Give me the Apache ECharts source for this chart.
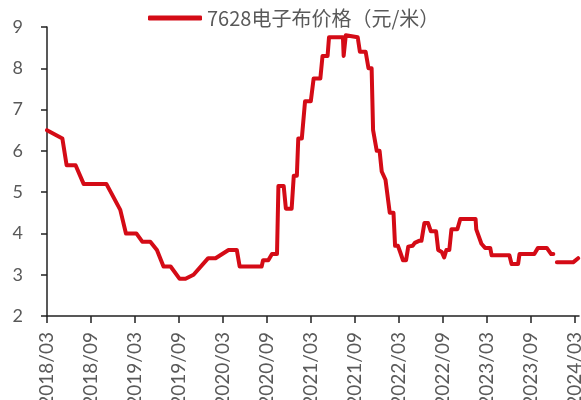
<!DOCTYPE html>
<html>
<head>
<meta charset="utf-8">
<script src="https://cdn.jsdelivr.net/npm/echarts@6/dist/echarts.min.js"></script>
<style>
  html, body { margin: 0; padding: 0; background: #fff; }
  #chart { width: 581px; height: 400px; }
</style>
</head>
<body>
<div id="chart"></div>
<script>
// 7628 electronic cloth price, CNY per metre (null = no quote)
const dates = [
  '2018-03-01','2018-05-04','2018-05-22','2018-06-28','2018-08-01','2018-11-04',
  '2019-01-01','2019-01-25','2019-03-07','2019-04-01','2019-05-04','2019-06-01',
  '2019-06-28','2019-07-28','2019-09-04','2019-09-28','2019-11-01','2020-01-01',
  '2020-02-01','2020-03-25','2020-04-28','2020-05-10','2020-08-10','2020-08-16',
  '2020-09-07','2020-09-22','2020-10-13','2020-10-19','2020-11-10','2020-11-19',
  '2020-12-13','2020-12-22','2021-01-04','2021-01-10','2021-01-25','2021-02-07',
  '2021-03-01','2021-03-13','2021-04-10','2021-04-19','2021-05-10','2021-05-16',
  '2021-07-13','2021-07-16','2021-07-25','2021-09-13','2021-09-22','2021-10-16',
  '2021-10-28','2021-11-10','2021-11-16','2021-12-01','2021-12-13','2021-12-22',
  '2022-01-07','2022-01-25','2022-02-09','2022-02-15','2022-02-26','2022-03-07',
  '2022-03-19','2022-04-01','2022-04-10','2022-04-28','2022-05-07','2022-05-25',
  '2022-06-04','2022-06-16','2022-07-01','2022-07-13','2022-08-04','2022-08-13',
  '2022-08-28','2022-09-07','2022-09-16','2022-09-28','2022-10-07','2022-11-01',
  '2022-11-13','2023-01-16','2023-01-19','2023-02-09','2023-02-23','2023-03-16',
  '2023-03-22','2023-06-04','2023-06-13','2023-07-10','2023-07-16','2023-09-16',
  '2023-10-01','2023-11-07','2023-11-25','2023-12-04','2023-12-11','2023-12-19',
  '2024-02-24','2024-03-16'
];
const prices = [
  6.5, 6.3, 5.65, 5.65, 5.2, 5.2,
  4.57, 4.0, 4.0, 3.8, 3.8, 3.6,
  3.2, 3.2, 2.9, 2.9, 3.0, 3.4,
  3.4, 3.6, 3.6, 3.2, 3.2, 3.35,
  3.35, 3.5, 3.5, 5.15, 5.15, 4.6,
  4.6, 5.4, 5.4, 6.3, 6.3, 7.2,
  7.2, 7.75, 7.75, 8.3, 8.3, 8.75,
  8.75, 8.3, 8.8, 8.75, 8.4, 8.4,
  8.0, 8.0, 6.5, 6.0, 6.0, 5.5,
  5.3, 4.5, 4.5, 3.7, 3.7, 3.55,
  3.35, 3.35, 3.68, 3.7, 3.77, 3.82,
  3.82, 4.25, 4.25, 4.05, 4.05, 3.6,
  3.55, 3.42, 3.6, 3.6, 4.1, 4.1,
  4.35, 4.35, 4.1, 3.75, 3.65, 3.65,
  3.47, 3.47, 3.26, 3.26, 3.5, 3.5,
  3.65, 3.65, 3.5, 3.5, null, 3.3,
  3.3, 3.4
];
const xTickLabels = [
  '2018/03','2018/09','2019/03','2019/09','2020/03','2020/09','2021/03',
  '2021/09','2022/03','2022/09','2023/03','2023/09','2024/03'
];
const seriesName = '7628电子布价格（元/米）';

// months elapsed since 2018-03-01
function monthOffset(str) {
  const [y, m, d] = str.split('-').map(Number);
  const dim = new Date(y, m, 0).getDate();
  return (y - 2018) * 12 + (m - 3) + (d - 1) / dim;
}
function labelMonth(s) {
  const [y, m] = s.split('/').map(Number);
  return (y - 2018) * 12 + (m - 3);
}

const tickValues = xTickLabels.map(labelMonth);
const seriesData = dates.map((d, i) => [monthOffset(d), prices[i] == null ? '-' : prices[i]]);
const lineColor = '#d40b16';
const textColor = '#595959';

const chart = echarts.init(document.getElementById('chart'), null, { renderer: 'canvas' });
chart.setOption({
  animation: false,
  backgroundColor: '#ffffff',
  legend: {
    left: 148,
    top: 8,
    padding: 0,
    itemWidth: 54,
    itemHeight: 5,
    itemGap: 10,
    icon: 'roundRect',
    textStyle: {
      fontFamily: '"Noto Sans CJK SC", sans-serif',
      fontSize: 20,
      color: textColor
    },
    data: [seriesName]
  },
  grid: { left: 47, right: 2, top: 27, bottom: 84, containLabel: false, outerBoundsMode: 'none' },
  xAxis: {
    type: 'value',
    min: 0,
    max: 72.6,
    axisLine: { show: true, lineStyle: { color: '#222', width: 1.5 } },
    axisTick: { show: true, length: 7, inside: false, customValues: tickValues, lineStyle: { color: '#222', width: 1.5 } },
    splitLine: { show: false },
    axisLabel: {
      customValues: tickValues,
      rotate: 90,
      margin: 16,
      fontFamily: 'Lato, sans-serif',
      fontSize: 19,
      color: textColor,
      formatter: v => xTickLabels[tickValues.indexOf(Math.round(v))] || ''
    }
  },
  yAxis: {
    type: 'value',
    min: 2,
    max: 9,
    interval: 1,
    axisLine: { show: true, lineStyle: { color: '#222', width: 1.5 } },
    axisTick: { show: true, length: 6, lineStyle: { color: '#222', width: 1.5 } },
    splitLine: { show: false },
    axisLabel: {
      margin: 24,
      fontFamily: 'Lato, sans-serif',
      fontSize: 18,
      color: textColor
    }
  },
  series: [{
    name: seriesName,
    type: 'line',
    data: seriesData,
    showSymbol: false,
    symbol: 'none',
    connectNulls: false,
    itemStyle: { color: lineColor },
    lineStyle: { color: lineColor, width: 4, join: 'round', cap: 'round' }
  }]
});
</script>
</body>
</html>
